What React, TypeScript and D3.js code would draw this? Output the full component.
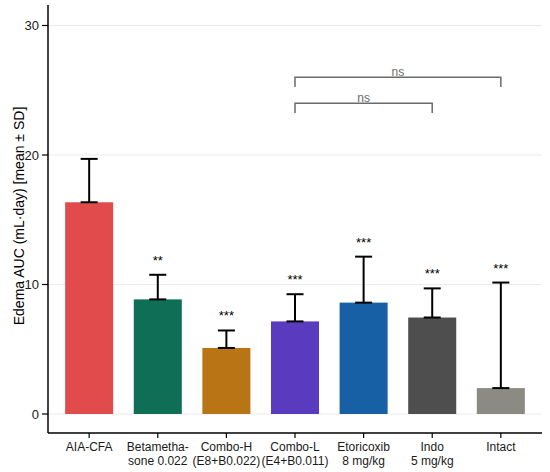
import { useRef, useEffect } from 'react';
import * as d3 from 'd3';

const groups = ['AIA-CFA', 'Betametha-sone 0.022', 'Combo-H', 'Combo-L', 'Etoricoxib', 'Indo', 'Intact'];
const labelLines = [
  ['AIA-CFA'],
  ['Betametha-', 'sone 0.022'],
  ['Combo-H', '(E8+B0.022)'],
  ['Combo-L', '(E4+B0.011)'],
  ['Etoricoxib', '8 mg/kg'],
  ['Indo', '5 mg/kg'],
  ['Intact'],
];
const means = [16.35, 8.85, 5.1, 7.15, 8.6, 7.45, 2.0];
const sds = [3.35, 1.9, 1.35, 2.1, 3.55, 2.25, 8.15];
const stars = ['', '**', '***', '***', '***', '***', '***'];
const colors = ['#E24B4B', '#0E6E56', '#B97416', '#5A3BC0', '#1760A5', '#4E4E4E', '#8B8B84'];
const yTicks = [0, 10, 20, 30];

const comparisons = [
  { from: 'Combo-L', to: 'Intact', y: 26, label: 'ns' },
  { from: 'Combo-L', to: 'Indo', y: 24, label: 'ns' },
];

export default function App() {
  const svgRef = useRef<SVGSVGElement | null>(null);
  const width = 550;
  const height = 472;

  useEffect(() => {
    document.body.style.margin = '0';
    if (!svgRef.current) return;
    const svg = d3.select(svgRef.current);
    svg.selectAll('*').remove();

    const left = 48;
    const right = 542;
    const top = 5;
    const bottom = 433;
    const font = '"Liberation Sans", Arial, sans-serif';

    const x = d3.scaleBand().domain(groups).range([left, right]).paddingInner(0.3).paddingOuter(0.25);
    const y = d3.scaleLinear().domain([0, 30]).range([414, 25.5]);

    // grid
    svg.append('g')
      .selectAll('line')
      .data(yTicks)
      .join('line')
      .attr('x1', left)
      .attr('x2', right)
      .attr('y1', (d) => y(d))
      .attr('y2', (d) => y(d))
      .attr('stroke', '#ebebeb')
      .attr('stroke-width', 1);

    // bars
    svg.append('g')
      .selectAll('rect')
      .data(groups)
      .join('rect')
      .attr('x', (d) => x(d)!)
      .attr('width', x.bandwidth())
      .attr('y', (_, i) => y(means[i]))
      .attr('height', (_, i) => y(0) - y(means[i]))
      .attr('fill', (_, i) => colors[i]);

    // error bars + significance stars
    const eb = svg.append('g').attr('stroke', '#000').attr('stroke-width', 2).attr('fill', 'none');
    groups.forEach((g, i) => {
      const cx = x(g)! + x.bandwidth() / 2;
      const y0 = y(means[i]);
      const y1 = y(means[i] + sds[i]);
      const half = 8.5;
      eb.append('line').attr('x1', cx).attr('x2', cx).attr('y1', y0).attr('y2', y1);
      eb.append('line').attr('x1', cx - half).attr('x2', cx + half).attr('y1', y1).attr('y2', y1);
      eb.append('line').attr('x1', cx - half).attr('x2', cx + half).attr('y1', y0).attr('y2', y0);
      if (stars[i]) {
        svg.append('text')
          .attr('x', cx)
          .attr('y', y1 - 10)
          .attr('text-anchor', 'middle')
          .attr('font-family', font)
          .attr('font-size', 13)
          .attr('fill', '#000')
          .text(stars[i]);
      }
    });

    // comparisons
    const cg = svg.append('g');
    comparisons.forEach((c) => {
      const x1 = x(c.from)! + x.bandwidth() / 2;
      const x2 = x(c.to)! + x.bandwidth() / 2;
      const yy = y(c.y);
      const yd = y(c.y - 0.75);
      cg.append('path')
        .attr('d', `M${x1},${yd}V${yy}H${x2}V${yd}`)
        .attr('fill', 'none')
        .attr('stroke', '#6b6b6b')
        .attr('stroke-width', 1.5);
      cg.append('text')
        .attr('x', (x1 + x2) / 2)
        .attr('y', yy - 1)
        .attr('text-anchor', 'middle')
        .attr('font-family', font)
        .attr('font-size', 12)
        .attr('fill', '#6b6b6b')
        .text(c.label);
    });

    // y axis
    const ya = svg.append('g');
    ya.append('line').attr('x1', left).attr('x2', left).attr('y1', top).attr('y2', bottom).attr('stroke', '#000').attr('stroke-width', 1.5);
    yTicks.forEach((t) => {
      ya.append('line').attr('x1', left - 6).attr('x2', left).attr('y1', y(t)).attr('y2', y(t)).attr('stroke', '#000').attr('stroke-width', 1.2);
      ya.append('text')
        .attr('x', left - 9)
        .attr('y', y(t))
        .attr('dy', '0.36em')
        .attr('text-anchor', 'end')
        .attr('font-family', font)
        .attr('font-size', 13)
        .attr('fill', '#1a1a1a')
        .text(t);
    });
    ya.append('text')
      .attr('transform', `translate(19,216) rotate(-90)`)
      .attr('dy', '0.35em')
      .attr('text-anchor', 'middle')
      .attr('font-family', font)
      .attr('font-size', 14)
      .attr('fill', '#000')
      .text('Edema AUC (mL·day) [mean ± SD]');

    // x axis
    const xa = svg.append('g');
    xa.append('line').attr('x1', left).attr('x2', right).attr('y1', bottom).attr('y2', bottom).attr('stroke', '#000').attr('stroke-width', 1.5);
    groups.forEach((g, i) => {
      const cx = x(g)! + x.bandwidth() / 2;
      xa.append('line').attr('x1', cx).attr('x2', cx).attr('y1', bottom).attr('y2', bottom + 5).attr('stroke', '#000').attr('stroke-width', 1.2);
      const t = xa.append('text')
        .attr('text-anchor', 'middle')
        .attr('font-family', font)
        .attr('font-size', 12)
        .attr('fill', '#1a1a1a');
      labelLines[i].forEach((ln, j) => {
        t.append('tspan').attr('x', cx).attr('y', 451 + j * 14).text(ln);
      });
    });
  }, []);

  return <svg ref={svgRef} width={width} height={height} style={{ display: 'block' }} />;
}
